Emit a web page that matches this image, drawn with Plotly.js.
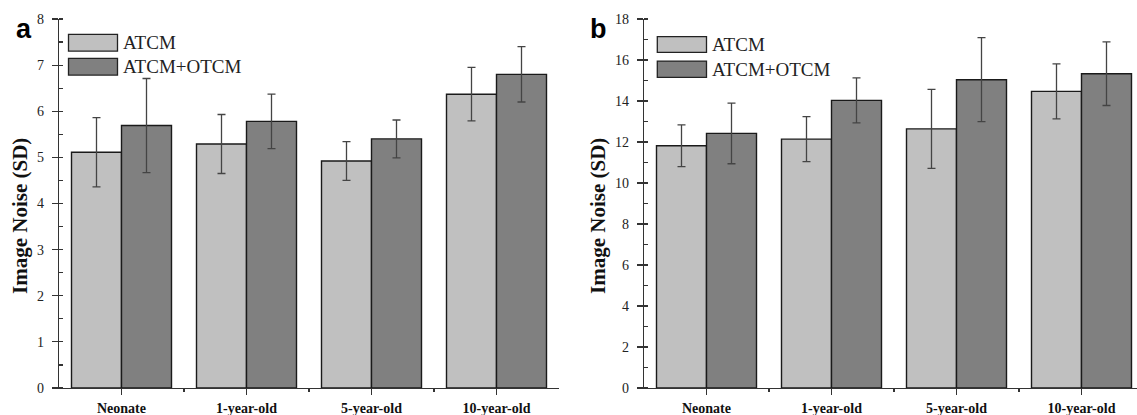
<!DOCTYPE html>
<html>
<head>
<meta charset="utf-8">
<script src="https://cdn.plot.ly/plotly-3.0.1.min.js"></script>
<style>
html,body{margin:0;padding:0;background:#fff;overflow:hidden;width:1137px;height:415px;}
#chart{width:1150px;height:415px;}
</style>
</head>
<body>
<div id="chart"></div>
<script>
// ---- data ----
const categories = ['Neonate', '1-year-old', '5-year-old', '10-year-old'];
const seriesNames = ['ATCM', 'ATCM+OTCM'];

// panel a
const aAtcmMean = [5.11, 5.29, 4.92, 6.37];
const aAtcmSD   = [0.75, 0.64, 0.42, 0.58];
const aOtcmMean = [5.69, 5.78, 5.40, 6.80];
const aOtcmSD   = [1.02, 0.59, 0.41, 0.60];

// panel b
const bAtcmMean = [11.82, 12.14, 12.64, 14.47];
const bAtcmSD   = [1.02, 1.10, 1.93, 1.34];
const bOtcmMean = [12.42, 14.03, 15.04, 15.33];
const bOtcmSD   = [1.48, 1.10, 2.05, 1.55];

const yTitle = 'Image Noise (SD)';
const panelLabels = ['a', 'b'];

// ---- style ----
const W = 1150, H = 415;
const lightFill = '#c0c0c0', darkFill = '#808080';
const serif = 'Liberation Serif, Times New Roman, serif';
const axisColor = '#333';
const xIdx = categories.map((_, i) => i);
const boundaries = categories.slice(0, -1).map((_, i) => i + 0.5);

function barTrace(name, y, sd, fill, xa, ya) {
  return {
    type: 'bar', name: name, x: xIdx, y: y,
    xaxis: xa, yaxis: ya, showlegend: false,
    marker: {color: fill, line: {color: '#1a1a1a', width: 1.4}},
    error_y: {type: 'data', array: sd, visible: true, color: '#444', thickness: 1.3, width: 4},
    hoverinfo: 'x+y'
  };
}

const data = [
  barTrace(seriesNames[0], aAtcmMean, aAtcmSD, lightFill, 'x', 'y'),
  barTrace(seriesNames[1], aOtcmMean, aOtcmSD, darkFill, 'x', 'y'),
  barTrace(seriesNames[0], bAtcmMean, bAtcmSD, lightFill, 'x2', 'y2'),
  barTrace(seriesNames[1], bOtcmMean, bOtcmSD, darkFill, 'x2', 'y2')
];

const yDom = [(H - 388) / H, (H - 19) / H];
const domA = [59 / W, 559 / W];
const domB = [644 / W, 1144 / W];

function bottomX(dom, anchor) {
  return {
    domain: dom, anchor: anchor, range: [-0.5, categories.length - 0.5],
    tickmode: 'array', tickvals: xIdx, ticktext: categories,
    ticks: 'outside', ticklen: 6, tickwidth: 1.2, tickcolor: axisColor,
    minor: {tickmode: 'array', tickvals: boundaries, ticks: 'outside', ticklen: 3, tickwidth: 1.2, tickcolor: axisColor},
    showline: true, linecolor: axisColor, linewidth: 1.3,
    showgrid: false, zeroline: false, fixedrange: true,
    ticklabelstandoff: 1,
    tickfont: {family: serif, size: 14, color: '#111', weight: 'bold'}
  };
}
function topX(overlay, anchor) {
  return {
    overlaying: overlay, side: 'top', anchor: anchor, range: [-0.5, categories.length - 0.5],
    tickmode: 'array', tickvals: xIdx, showticklabels: false,
    ticks: 'inside', ticklen: 6, tickwidth: 1.2, tickcolor: axisColor,
    minor: {tickmode: 'array', tickvals: boundaries, ticks: 'inside', ticklen: 3, tickwidth: 1.2, tickcolor: axisColor},
    showline: true, linecolor: axisColor, linewidth: 1.3,
    showgrid: false, zeroline: false, fixedrange: true
  };
}
function leftY(anchor, max, dtick) {
  return {
    domain: yDom, anchor: anchor, range: [0, max],
    tickmode: 'linear', tick0: 0, dtick: dtick,
    ticks: 'outside', ticklen: 6, tickwidth: 1.2, tickcolor: axisColor,
    minor: {dtick: dtick / 2, tick0: 0, ticks: 'inside', ticklen: 4, tickwidth: 1.2, tickcolor: axisColor},
    showline: true, linecolor: axisColor, linewidth: 1.3,
    showgrid: false, zeroline: false, fixedrange: true,
    ticklabelstandoff: 5,
    tickfont: {family: serif, size: 14, color: '#222'}
  };
}
function rightY(overlay, anchor, max, dtick) {
  return {
    overlaying: overlay, side: 'right', anchor: anchor, range: [0, max],
    tickmode: 'linear', tick0: 0, dtick: dtick, showticklabels: false,
    ticks: 'inside', ticklen: 5, tickwidth: 1.2, tickcolor: axisColor,
    minor: {dtick: dtick / 2, tick0: 0, ticks: 'inside', ticklen: 5, tickwidth: 1.2, tickcolor: axisColor},
    showline: true, linecolor: axisColor, linewidth: 1.3,
    showgrid: false, zeroline: false, fixedrange: true
  };
}

// legend swatches & texts (per panel, in axis-domain coords)
function legendParts(xa, ya, sx0, sx1, rows, tx) {
  const shapes = [], anns = [];
  const fills = [lightFill, darkFill];
  rows.forEach((r, i) => {
    shapes.push({type: 'rect', xref: xa + ' domain', yref: ya + ' domain',
      x0: sx0, x1: sx1, y0: r[0], y1: r[1],
      fillcolor: fills[i], line: {color: '#222', width: 1.3}});
    anns.push({xref: xa + ' domain', yref: ya + ' domain', x: tx, y: (r[0] + r[1]) / 2,
      xanchor: 'left', yanchor: 'middle', showarrow: false, text: seriesNames[i],
      font: {family: serif, size: 19, color: '#222'}});
  });
  return {shapes, anns};
}
const legA = legendParts('x', 'y', 0.019, 0.117, [[0.913, 0.9585], [0.848, 0.8935]], 0.124);
const legB = legendParts('x2', 'y2', 0.0266, 0.125, [[0.9097, 0.952], [0.842, 0.886]], 0.132);

const annotations = [
  ...legA.anns, ...legB.anns,
  {xref: 'paper', yref: 'paper', x: 20 / W, y: (H - 216) / H, xanchor: 'center', yanchor: 'middle',
   textangle: -90, showarrow: false, text: yTitle,
   font: {family: serif, size: 21, color: '#111', weight: 'bold'}},
  {xref: 'paper', yref: 'paper', x: 598 / W, y: (H - 216) / H, xanchor: 'center', yanchor: 'middle',
   textangle: -90, showarrow: false, text: yTitle,
   font: {family: serif, size: 21, color: '#111', weight: 'bold'}},
  {xref: 'paper', yref: 'paper', x: 24 / W, y: (H - 29) / H, xanchor: 'center', yanchor: 'middle',
   showarrow: false, text: panelLabels[0],
   font: {family: 'Liberation Sans, Arial, sans-serif', size: 27, color: '#000', weight: 'bold'}},
  {xref: 'paper', yref: 'paper', x: 598 / W, y: (H - 29) / H, xanchor: 'center', yanchor: 'middle',
   showarrow: false, text: panelLabels[1],
   font: {family: 'Liberation Sans, Arial, sans-serif', size: 27, color: '#000', weight: 'bold'}}
];

const layout = {
  width: W, height: H,
  margin: {l: 0, r: 0, t: 0, b: 0},
  paper_bgcolor: '#fff', plot_bgcolor: '#fff',
  barmode: 'group', bargap: 0.2, bargroupgap: 0,
  showlegend: false,
  xaxis: bottomX(domA, 'y'),
  yaxis: leftY('x', 8, 1),
  xaxis2: bottomX(domB, 'y2'),
  yaxis2: leftY('x2', 18, 2),
  xaxis3: topX('x', 'y'),
  yaxis3: rightY('y', 'x', 8, 1),
  xaxis4: topX('x2', 'y2'),
  yaxis4: rightY('y2', 'x2', 18, 2),
  shapes: [...legA.shapes, ...legB.shapes],
  annotations: annotations
};

Plotly.newPlot('chart', data, layout, {displayModeBar: false, staticPlot: true});
</script>
</body>
</html>
